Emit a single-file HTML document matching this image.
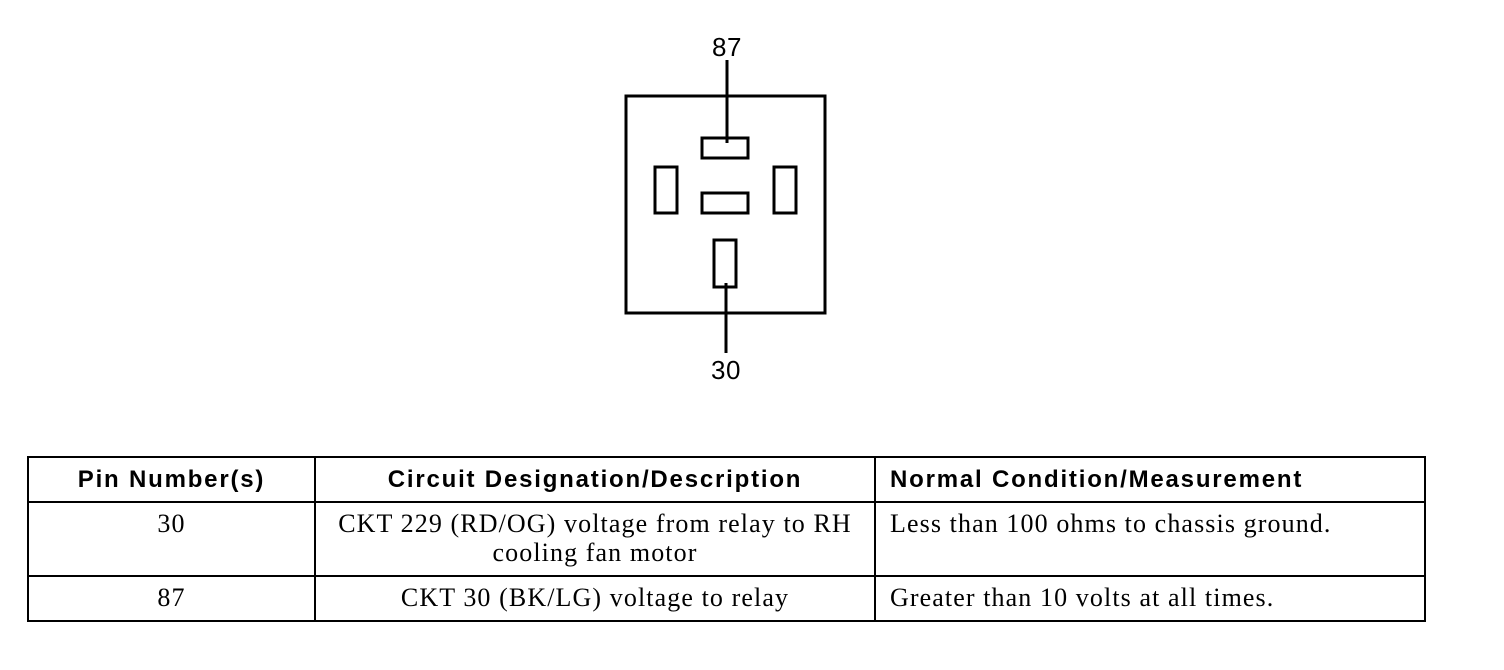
<!DOCTYPE html>
<html><head><style>
body{margin:0;width:1504px;height:670px;background:#fff;position:relative;overflow:hidden}
.t{position:absolute;font-family:"Liberation Sans",sans-serif;font-size:26px;line-height:26px;color:#000;letter-spacing:0.5px}
table{position:absolute;left:27px;top:456px;border-collapse:collapse;width:1399px}
td,th{border:2px solid #000;padding:0}
th{font-family:"Liberation Sans",sans-serif;font-weight:bold;height:43px;font-size:24px;letter-spacing:1.8px}
td{font-family:"Liberation Serif",serif;font-size:26px;text-align:center;line-height:29px;vertical-align:top;padding-top:6px;letter-spacing:1.1px}
td.l,th.l{text-align:left;padding-left:14px}
</style></head><body>
<svg width="1504" height="420" style="position:absolute;left:0;top:0">
<g fill="none" stroke="#000" stroke-width="3">
<rect x="626" y="96" width="199" height="217"/>
<rect x="702" y="138" width="46" height="20"/>
<rect x="655" y="167" width="22" height="46"/>
<rect x="702" y="193" width="46" height="20"/>
<rect x="774" y="167" width="22" height="46"/>
<rect x="714" y="240" width="22" height="47"/>
<line x1="727" y1="60" x2="727" y2="143"/>
<line x1="726" y1="283" x2="726" y2="353"/>
</g></svg>
<div class="t" style="left:712px;top:34px">87</div>
<div class="t" style="left:711px;top:357px">30</div>
<table>
<tr><th style="width:285px">Pin Number(s)</th><th style="width:558px">Circuit Designation/Description</th><th class="l">Normal Condition/Measurement</th></tr>
<tr style="height:74px"><td>30</td><td>CKT 229 (RD/OG) voltage from relay to RH<br>cooling fan motor</td><td class="l">Less than 100 ohms to chassis ground.</td></tr>
<tr style="height:45px"><td>87</td><td>CKT 30 (BK/LG) voltage to relay</td><td class="l">Greater than 10 volts at all times.</td></tr>
</table>
</body></html>
